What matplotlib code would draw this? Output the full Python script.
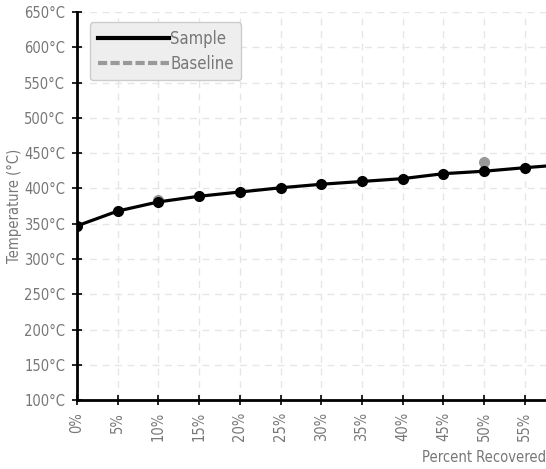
import numpy as np
import matplotlib.pyplot as plt
from matplotlib.lines import Line2D

# Curva de destilação: temperatura x percentual recuperado
percent = [0, 5, 10, 15, 20, 25, 30, 35, 40, 45, 50, 55, 60]
sample_temp = [347, 368, 381, 389, 395, 401, 406, 410, 414, 421, 424.5, 429.5, 434]

# Pontos de referência (baseline)
baseline_pct = [10, 50]
baseline_temp = [383, 438]

x_ticks = list(range(0, 60, 5))
y_ticks = list(range(100, 651, 50))

plt.rcParams['font.family'] = ['DejaVu Sans']
plt.rcParams['font.stretch'] = 'condensed'
label_color = '#777777'

fig = plt.figure(figsize=(5.46, 4.69), dpi=100)
ax = fig.add_axes([0.141, 0.147, 0.859, 0.827])

ax.plot(baseline_pct, baseline_temp, 'o', color='#999999', markersize=7, zorder=3)
ax.plot(percent, sample_temp, '-', color='black', linewidth=2.3, zorder=4)
ax.plot(percent, sample_temp, 'o', color='black', markersize=7, zorder=5)

ax.set_xlim(0, 57.6)
ax.set_ylim(100, 650)
ax.set_xticks(x_ticks)
ax.set_xticklabels([f'{v}%' for v in x_ticks], rotation=90)
ax.set_yticks(y_ticks)
ax.set_yticklabels([f'{v}°C' for v in y_ticks])

ax.grid(True, linestyle=(0, (5, 4)), color='#e6e6e6', linewidth=1)
ax.set_axisbelow(True)

for side in ['top', 'right']:
    ax.spines[side].set_visible(False)
for side in ['left', 'bottom']:
    ax.spines[side].set_linewidth(2)
    ax.spines[side].set_color('black')
ax.tick_params(direction='inout', length=7, width=1.2, colors='black',
               labelcolor=label_color, labelsize=10.5, pad=5)

ax.set_ylabel('Temperature (°C)', color=label_color, fontsize=10.5)
ax.yaxis.set_label_coords(-0.118, 0.5)
ax.set_xlabel('Percent Recovered', color=label_color, fontsize=10.5)
ax.xaxis.set_label_coords(1.0, -0.13)
ax.xaxis.label.set_horizontalalignment('right')

handles = [Line2D([], [], color='black', linewidth=3),
           Line2D([], [], color='#999999', linewidth=3, linestyle=(0, (2.2, 0.8)))]
leg = ax.legend(handles, ['Sample', 'Baseline'], loc='upper left',
                bbox_to_anchor=(0.01, 0.995), fontsize=12, handlelength=4.3,
                handletextpad=0.05, labelspacing=0.4, borderpad=0.45,
                fancybox=True, shadow=False, framealpha=1, labelcolor=label_color)
leg.get_frame().set_facecolor('#eeeeee')
leg.get_frame().set_edgecolor('#cccccc')

fig.savefig('out.png', dpi=100)
